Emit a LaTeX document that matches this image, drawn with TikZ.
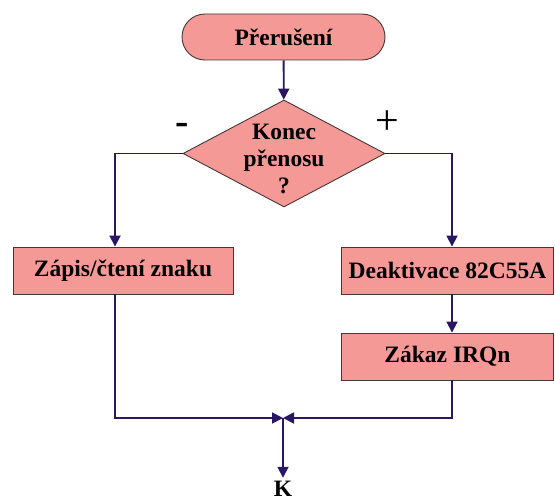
\documentclass[tikz,border=0pt]{standalone}
\usepackage{fontspec}
\setmainfont{Liberation Serif}
\usetikzlibrary{shapes.geometric, arrows.meta}

\definecolor{boxfill}{RGB}{245,153,151}
\definecolor{flowline}{RGB}{42,22,100}
\definecolor{boxline}{RGB}{70,55,55}

\begin{document}
\begin{tikzpicture}[x=1pt, y=-1pt,
  font=\fontsize{23.5}{27}\selectfont\bfseries,
  block/.style={draw=boxline, line width=0.9pt, fill=boxfill, minimum height=47pt, inner sep=2pt},
  decide/.style={draw=boxline, line width=0.9pt, fill=boxfill, diamond, minimum width=202pt, minimum height=107pt, inner sep=0pt},
  flow/.style={draw=flowline, line width=1.8pt, -{Triangle[length=11pt, width=11pt]}}]
\useasboundingbox (0,0) rectangle (555,503);

\node (int) [block, rounded corners=23pt, minimum width=203pt, minimum height=46pt] at (283.5,37) {Přerušení};
\node (dia) [decide] at (284,153.5) {\smash{\raisebox{14pt}{\begin{tabular}[t]{@{}c@{}}Konec\\přenosu\\?\end{tabular}}}};
\node (zn) [block, minimum width=220pt] at (123,270.5) {Zápis/čtení znaku};
\node (deak) [block, minimum width=212pt] at (447.5,270.5) {Deaktivace 82C55A};
\node (irq) [block, minimum width=212pt] at (447.5,356.5) {Zákaz IRQn};
\node (k) at (283,489) {K};
\coordinate (m) at (283,418);

\node (minus) at (182,129) {\fontsize{40}{40}\selectfont -};
\node (plus) at (387,123) {\fontsize{42}{42}\selectfont\mdseries +};

\draw[flow] (int) -- (dia);
\draw[flow] (dia.west) -| ([xshift=-8pt]zn.north);
\draw[flow] (dia.east) -| ([xshift=4.5pt]deak.north);
\draw[flow] ([xshift=4.5pt]deak.south) -- ([xshift=4.5pt]irq.north);
\draw[flow] ([xshift=-8pt]zn.south) |- (m);
\draw[flow] ([xshift=4.5pt]irq.south) |- (m);
\draw[flow] (m) -- (k);
\end{tikzpicture}
\end{document}
